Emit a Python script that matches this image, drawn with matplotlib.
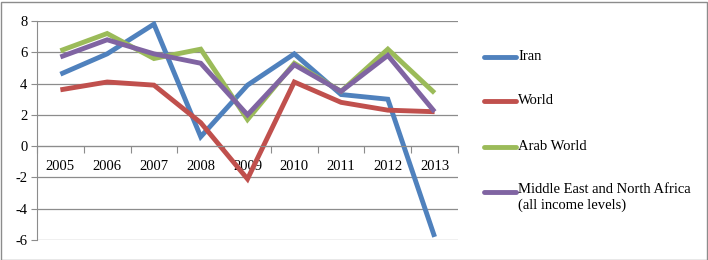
import matplotlib.pyplot as plt
from matplotlib.lines import Line2D
from matplotlib.patches import Rectangle

years = ["2005", "2006", "2007", "2008", "2009", "2010", "2011", "2012", "2013"]
iran = [4.6, 5.9, 7.8, 0.6, 3.9, 5.9, 3.3, 3.0, -5.8]
world = [3.6, 4.1, 3.9, 1.5, -2.1, 4.1, 2.8, 2.3, 2.2]
arab = [6.1, 7.2, 5.6, 6.2, 1.7, 5.3, 3.5, 6.2, 3.4]
mena = [5.7, 6.8, 5.9, 5.3, 2.0, 5.2, 3.5, 5.8, 2.2]

series = [
    ("Iran", iran, "#4F81BD"),
    ("World", world, "#C0504D"),
    ("Arab World", arab, "#9BBB59"),
    ("Middle East and North Africa\n(all income levels)", mena, "#8064A2"),
]

plt.rcParams["font.family"] = ["Liberation Serif", "DejaVu Serif"]
plt.rcParams["font.size"] = 10.5
plt.rcParams["axes.unicode_minus"] = False

fig = plt.figure(figsize=(7.08, 2.6), dpi=100)
ax = fig.add_axes([37 / 708, 20 / 260, 421 / 708, 219 / 260])

x = list(range(len(years)))
for name, vals, col in series:
    ax.plot(x, vals, color=col, lw=3.5, solid_capstyle="butt",
            solid_joinstyle="miter")

ax.set_xlim(-0.5, len(years) - 0.5)
ax.set_ylim(-6, 8)
ax.set_yticks(range(-6, 9, 2))
ax.grid(axis="y", color="#8c8c8c", lw=0.9)
ax.set_axisbelow(True)

# category axis crosses at zero, ticks between categories
ax.spines["bottom"].set_position(("data", 0))
ax.spines["bottom"].set_color("#8c8c8c")
ax.spines["left"].set_color("#8c8c8c")
ax.spines["top"].set_visible(False)
ax.spines["right"].set_visible(False)
ax.set_xticks([i + 0.5 for i in x[:-1]] + [-0.5, len(years) - 0.5])
ax.set_xticklabels([])
ax.set_xticks(x, minor=True)
ax.set_xticklabels(years, minor=True)
ax.tick_params(axis="x", which="major", length=5, color="#8c8c8c", direction="out")
ax.tick_params(axis="x", which="minor", length=0, pad=10)
ax.tick_params(axis="y", length=4, color="#8c8c8c", pad=3)

# legend drawn by hand, Excel style (handle on first text line)
leg_y = [57, 101, 147, 192]
for (name, vals, col), yp in zip(series, leg_y):
    yf = 1 - yp / 260
    fig.add_artist(Line2D([484 / 708, 516 / 708], [yf, yf], color=col, lw=3.5,
                          solid_capstyle="round", transform=fig.transFigure))
    if "\n" in name:
        fig.text(518 / 708, yf + 9 / 260, name, ha="left", va="top",
                 linespacing=1.2)
    else:
        fig.text(518 / 708, yf, name, ha="left", va="center")

fig.add_artist(Rectangle((0.5 / 708, 0.5 / 260), 706 / 708, 258 / 260,
                         transform=fig.transFigure, fill=False,
                         edgecolor="#8c8c8c", lw=1))

fig.savefig("out.png", dpi=100)
